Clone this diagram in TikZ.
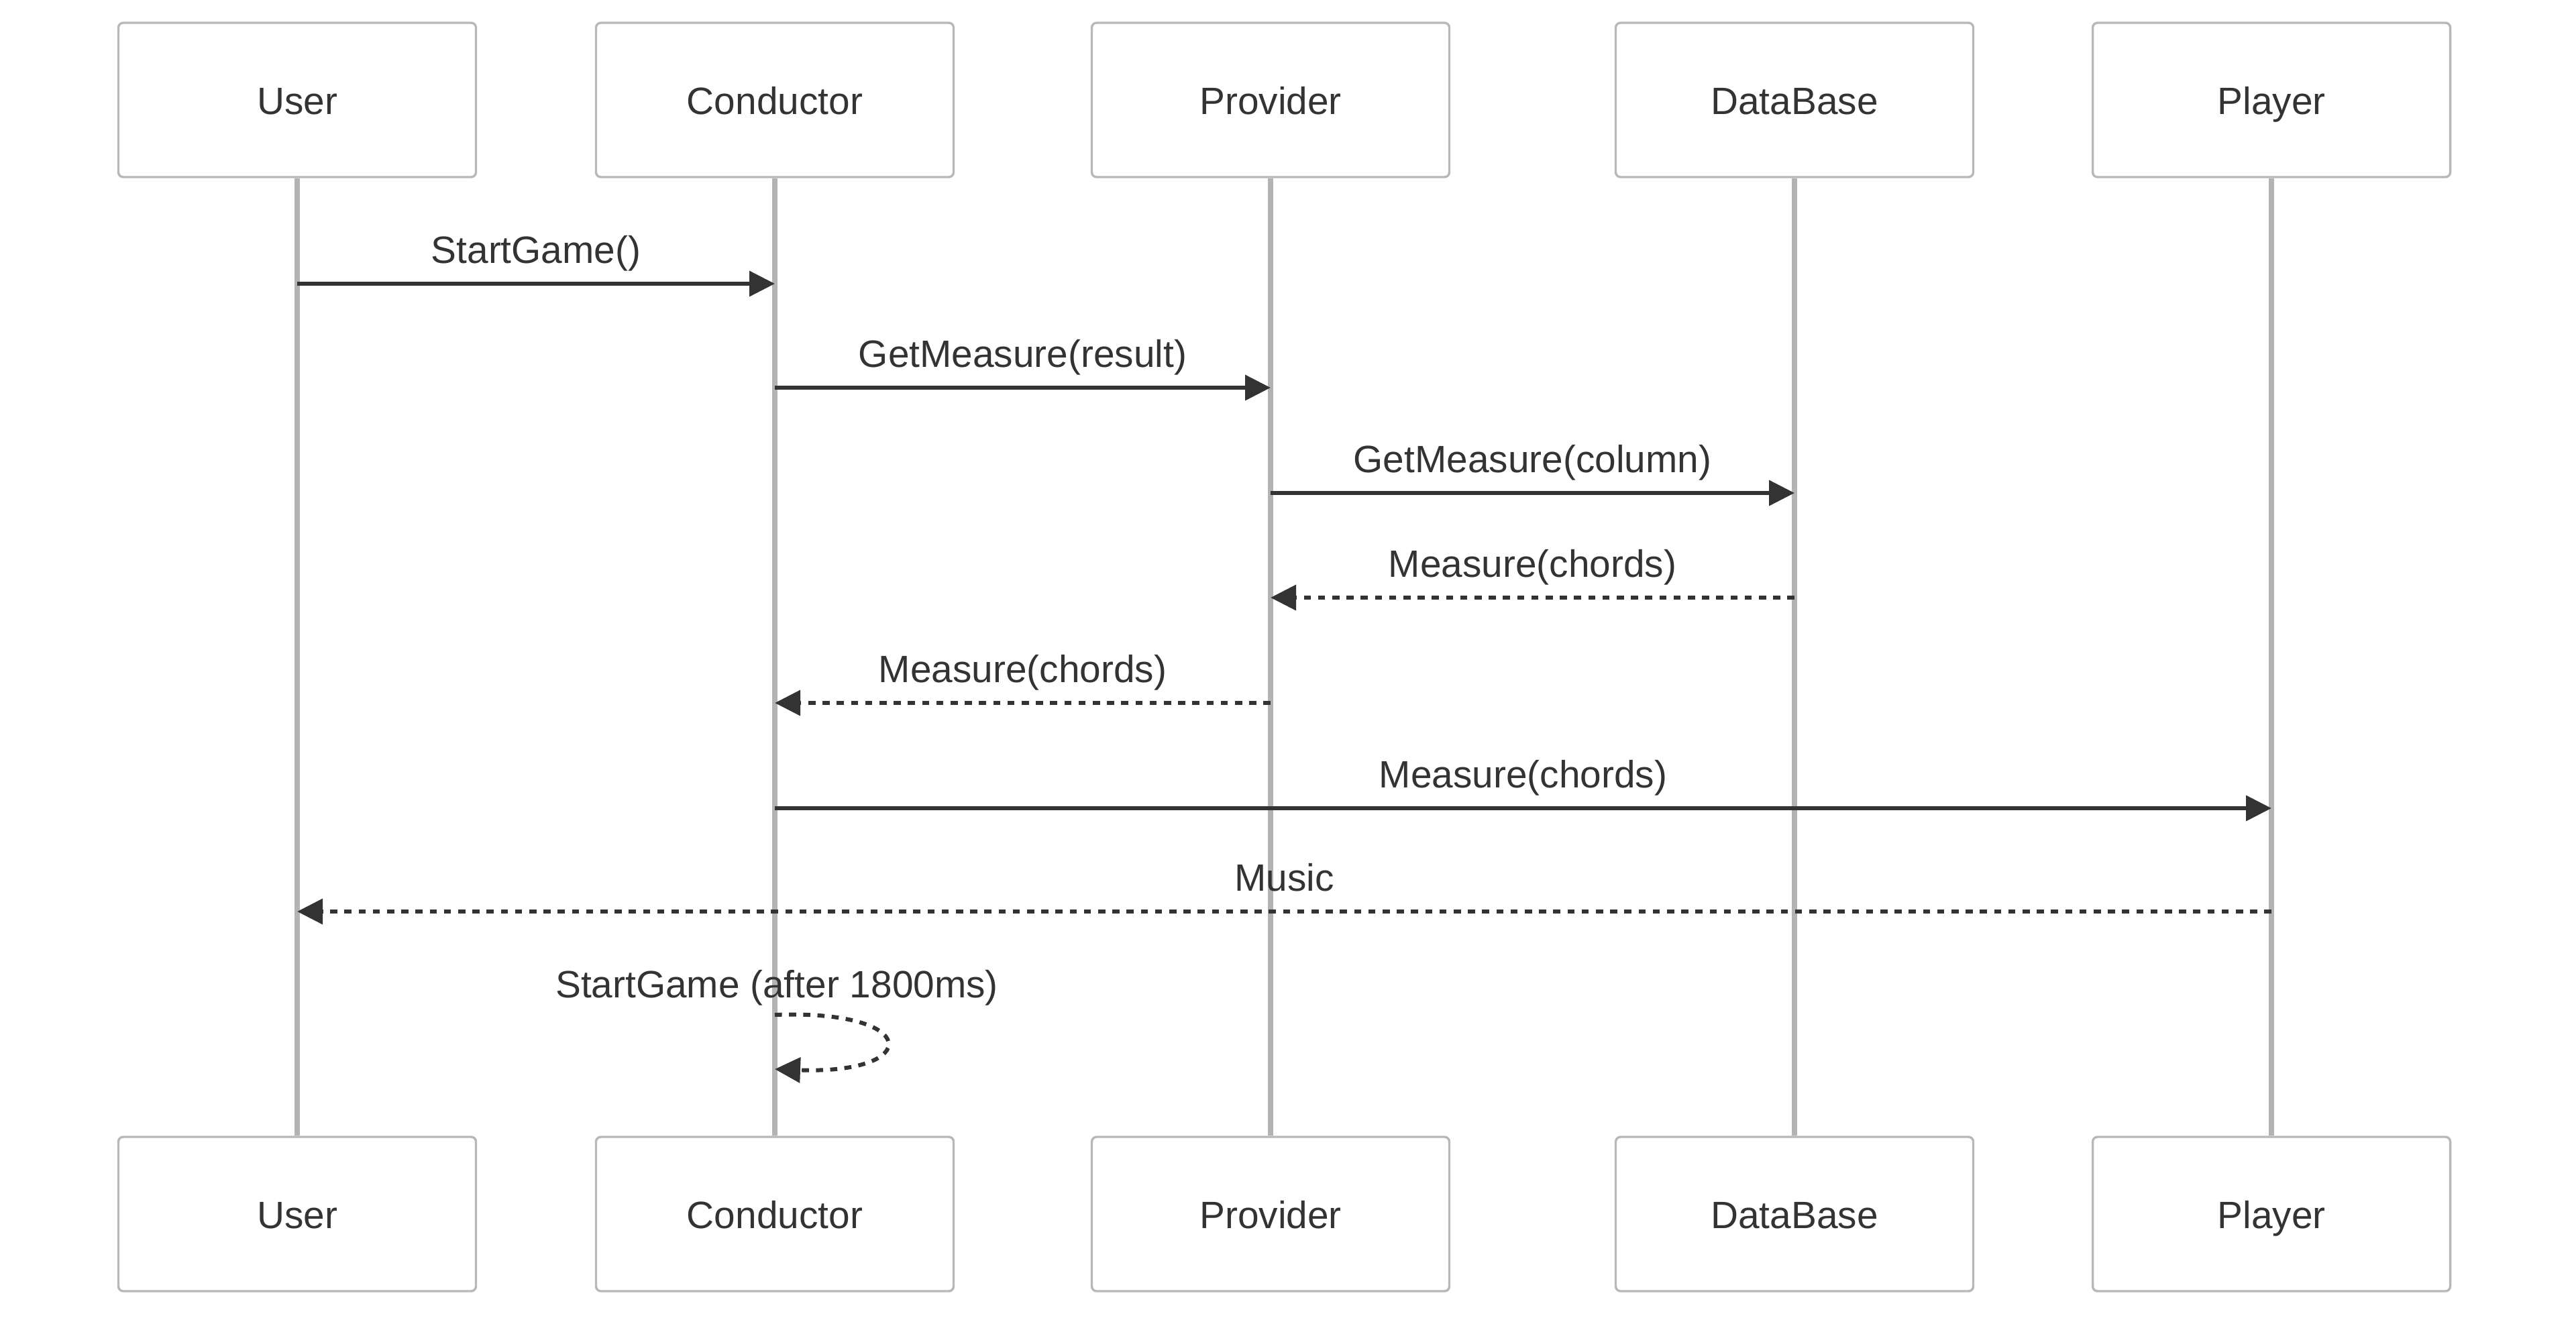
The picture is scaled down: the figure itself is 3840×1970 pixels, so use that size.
\documentclass[tikz,border=0pt]{standalone}
\usepackage{fontspec}
\setmainfont{Liberation Sans}
\usetikzlibrary{arrows.meta}
\definecolor{ink}{HTML}{333333}
\definecolor{life}{HTML}{B3B3B3}
\definecolor{boxline}{HTML}{B8B8B8}
\begin{document}
\begin{tikzpicture}[x=0.25pt,y=-0.25pt,
  actor/.style={draw=boxline, line width=0.85pt, fill=white, rounded corners=1.8pt,
    minimum width=133.25pt, minimum height=57.5pt, inner sep=0pt,
    font=\fontsize{14.2pt}{16pt}\selectfont, text=ink, text height=10.6pt, text depth=0pt},
  lifeline/.style={draw=life, line width=1.9pt},
  msg/.style={draw=ink, line width=1.5pt, -{Triangle[length=9.5pt,width=9.3pt]}},
  reply/.style={msg, dash pattern=on 2.65pt off 2.65pt},
  lbl/.style={font=\fontsize{14.2pt}{16pt}\selectfont, text=ink, inner sep=0pt,
    text height=10.25pt, text depth=0pt, yshift=12.8pt}]
\useasboundingbox (0,0) rectangle (3840,1970);
% top actors
\node[actor] (uT) at (443,149) {User};
\node[actor] (cT) at (1155,149) {Conductor};
\node[actor] (pT) at (1894,149) {Provider};
\node[actor] (dT) at (2675,149) {DataBase};
\node[actor] (yT) at (3386,149) {Player};
% bottom actors
\node[actor] (uB) at (443,1810) {User};
\node[actor] (cB) at (1155,1810) {Conductor};
\node[actor] (pB) at (1894,1810) {Provider};
\node[actor] (dB) at (2675,1810) {DataBase};
\node[actor] (yB) at (3386,1810) {Player};
% lifelines
\draw[lifeline] (uT.south) -- (uB.north);
\draw[lifeline] (cT.south) -- (cB.north);
\draw[lifeline] (pT.south) -- (pB.north);
\draw[lifeline] (dT.south) -- (dB.north);
\draw[lifeline] (yT.south) -- (yB.north);
% message rows
\coordinate (m1) at (0,423);
\coordinate (m2) at (0,578);
\coordinate (m3) at (0,735);
\coordinate (m4) at (0,891);
\coordinate (m5) at (0,1048);
\coordinate (m6) at (0,1205);
\coordinate (m7) at (0,1359);
\coordinate (s1) at (0,1513);
\coordinate (s2) at (0,1594);
% messages
\draw[msg] (uT |- m1) -- node[midway,lbl] {StartGame()} (cT |- m1);
\draw[msg] (cT |- m2) -- node[midway,lbl] {GetMeasure(result)} (pT |- m2);
\draw[msg] (pT |- m3) -- node[midway,lbl] {GetMeasure(column)} (dT |- m3);
\draw[reply] (dT |- m4) -- node[midway,lbl] {Measure(chords)} (pT |- m4);
\draw[reply] (pT |- m5) -- node[midway,lbl] {Measure(chords)} (cT |- m5);
\draw[msg] (cT |- m6) -- node[midway,lbl] {Measure(chords)} (yT |- m6);
\draw[reply] (yT |- m7) -- node[midway,lbl] {Music} (uT |- m7);
% self message
\node[lbl, yshift=-12.8pt] (sl) at (1158,1467) {StartGame (after 1800ms)};
\coordinate (c1) at (1375,1505);
\coordinate (c2) at (1375,1602);
\draw[reply] (cT |- s1) .. controls (c1) and (c2) .. (cT |- s2);
\end{tikzpicture}
\end{document}
